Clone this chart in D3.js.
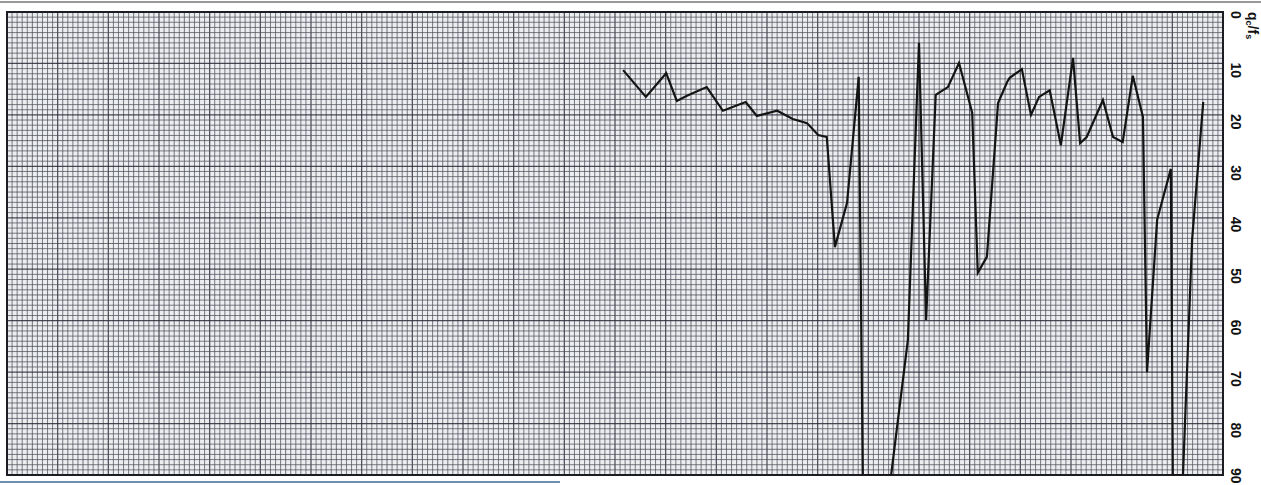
<!DOCTYPE html>
<html>
<head>
<meta charset="utf-8">
<script src="https://cdn.jsdelivr.net/npm/d3@7"></script>
<style>
  html, body { margin: 0; padding: 0; background: #ffffff; }
  svg { display: block; }
</style>
</head>
<body>
<svg id="chart" width="1261" height="485"></svg>
<script>
// depth along the log (m) and friction ratio qc/fs
const depth = [12.16, 12.61, 13.01, 13.22, 13.42, 13.81, 14.13, 14.58, 14.80, 15.20,
  15.51, 15.79, 16.01, 16.18, 16.34, 16.58, 16.81, 16.89, 17.45, 17.78,
  18.00, 18.14, 18.33, 18.57, 18.79, 19.05, 19.16, 19.34, 19.56, 19.74,
  19.79, 20.03, 20.21, 20.37, 20.58, 20.80, 21.04, 21.18, 21.31, 21.63,
  21.83, 22.02, 22.22, 22.42, 22.50, 22.70, 22.97, 23.01, 23.21, 23.39, 23.61];
const ratio = [11.3, 16.5, 11.9, 17.3, 16.3, 14.6, 19.2, 17.5, 20.2, 19.2,
  20.8, 21.6, 23.9, 24.3, 45.7, 37.1, 12.6, 90, 90, 63.8,
  6.0, 59.9, 16.1, 14.6, 9.9, 19.6, 50.7, 47.6, 17.7, 13.6,
  12.8, 11.1, 20.0, 16.5, 15.2, 25.9, 8.9, 25.5, 24.3, 17.1,
  24.3, 25.3, 12.4, 20.4, 70.0, 40.4, 30.5, 90, 90, 44.3, 17.5];
const yTickValues = [0, 10, 20, 30, 40, 50, 60, 70, 80, 90];
const depthDomain = [0, 24];
const ratioDomain = [0, 90];

const svg = d3.select("#chart");
const W = 1261, H = 485;
const pLeft = 7, pRight = 1223, pTop = 12, pBottom = 475;

const x = d3.scaleLinear().domain(depthDomain).range([pLeft, pRight]);
const y = d3.scaleLinear().domain(ratioDomain).range([pTop, pBottom]);

// graph paper background
svg.append("rect").attr("x", pLeft).attr("y", pTop)
  .attr("width", pRight - pLeft).attr("height", pBottom - pTop)
  .attr("fill", "#ecedef");

const grid = svg.append("g");
const xMinor = d3.range(0, 24.0001, 0.1);
const yMinor = d3.range(0, 90.0001, 1);

const gStroke = i => i % 10 === 0 ? "#2a2c38" : (i % 5 === 0 ? "#3e404c" : "#4c4e5a");
const gWidth = i => i % 10 === 0 ? 1.2 : 1.0;
const gOpac = i => i % 10 === 0 ? 0.85 : 0.72;

grid.selectAll("line.vx").data(xMinor).join("line")
  .attr("x1", d => x(d)).attr("x2", d => x(d))
  .attr("y1", pTop).attr("y2", pBottom)
  .attr("stroke", (d, i) => gStroke(i))
  .attr("stroke-width", (d, i) => gWidth(i))
  .attr("stroke-opacity", (d, i) => gOpac(i));

grid.selectAll("line.hy").data(yMinor).join("line")
  .attr("y1", d => y(d)).attr("y2", d => y(d))
  .attr("x1", pLeft).attr("x2", pRight)
  .attr("stroke", (d, i) => gStroke(i))
  .attr("stroke-width", (d, i) => gWidth(i))
  .attr("stroke-opacity", (d, i) => gOpac(i));

// frame
svg.append("rect").attr("x", pLeft).attr("y", pTop)
  .attr("width", pRight - pLeft).attr("height", pBottom - pTop)
  .attr("fill", "none").attr("stroke", "#1c1c24").attr("stroke-width", 2);

// top and bottom page lines
svg.append("line").attr("x1", 0).attr("x2", W).attr("y1", 2).attr("y2", 2)
  .attr("stroke", "#333").attr("stroke-width", 1.2);
svg.append("line").attr("x1", 0).attr("x2", 560).attr("y1", 482).attr("y2", 482)
  .attr("stroke", "#6f8fb0").attr("stroke-width", 2);

// trace
svg.append("clipPath").attr("id", "plotclip").append("rect")
  .attr("x", pLeft).attr("y", pTop).attr("width", pRight - pLeft).attr("height", pBottom - pTop);

const pts = depth.map((d, i) => [d, ratio[i]]);
svg.append("path")
  .attr("clip-path", "url(#plotclip)")
  .attr("d", d3.line().x(d => x(d[0])).y(d => y(d[1]))(pts))
  .attr("fill", "none").attr("stroke", "#141414")
  .attr("stroke-width", 2.2).attr("stroke-linejoin", "miter");

// right axis labels (rotated, reading downward)
const axisG = svg.append("g");
axisG.selectAll("text.tick").data(yTickValues).join("text")
  .attr("transform", d => `translate(1231,${Math.min(y(d) - 1, H - 17)}) rotate(90)`)
  .attr("text-anchor", "start")
  .attr("font-family", "'Liberation Sans', Arial, sans-serif")
  .attr("font-size", 14)
  .attr("font-weight", "bold")
  .attr("fill", "#111")
  .text(d => d);

// axis title qc/fs
const title = svg.append("text")
  .attr("transform", "translate(1248,12) rotate(90)")
  .attr("font-family", "'Liberation Sans', Arial, sans-serif")
  .attr("font-size", 14)
  .attr("font-weight", "bold")
  .attr("fill", "#111");
title.append("tspan").text("q");
title.append("tspan").attr("font-size", 9).attr("dy", 2).text("c");
title.append("tspan").attr("dy", -2).text("/f");
title.append("tspan").attr("font-size", 9).attr("dy", 2).text("s");
</script>
</body>
</html>
